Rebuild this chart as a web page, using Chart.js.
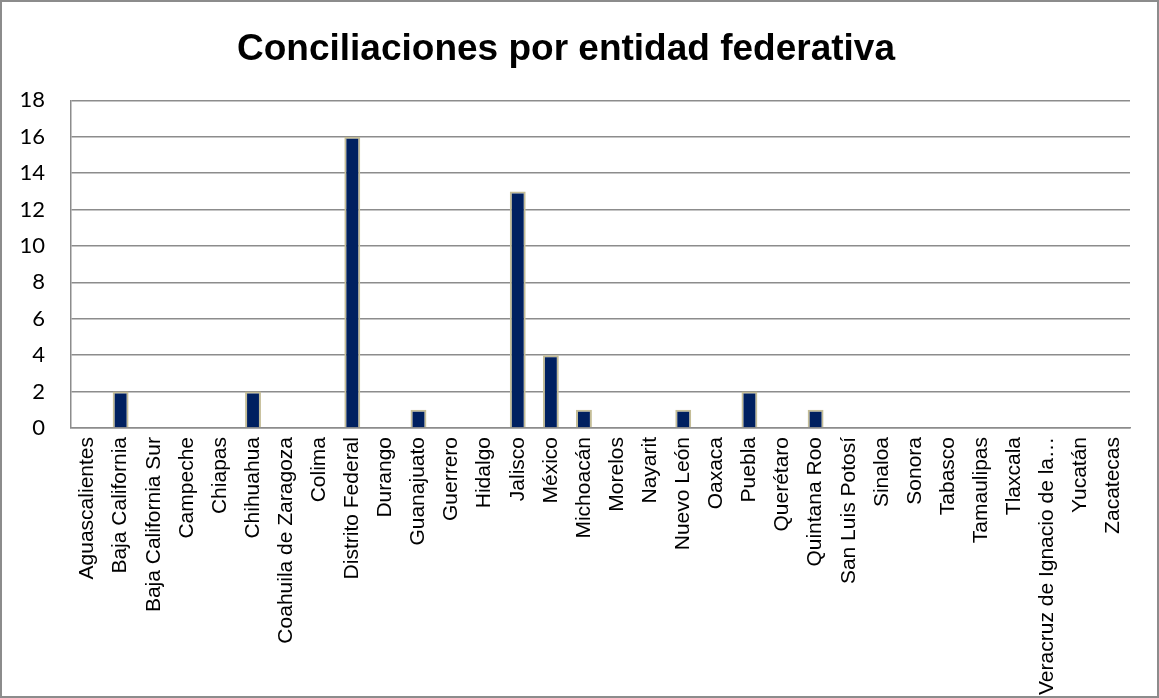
<!DOCTYPE html>
<html>
<head>
<meta charset="utf-8">
<script src="https://cdn.jsdelivr.net/npm/chart.js@4.4.0/dist/chart.umd.min.js"></script>
<style>
    html, body { margin: 0; padding: 0; background: #fff; }
    #wrap {
        width: 1159px; height: 698px;
        box-sizing: border-box;
        border: 2px solid #8c8c8c;
        position: relative;
    }
</style>
</head>
<body>
<div id="wrap"><canvas id="chart"></canvas></div>
<script>
// Entidades federativas (eje X)
const entidades = [
    "Aguascalientes", "Baja California", "Baja California Sur", "Campeche", "Chiapas",
    "Chihuahua", "Coahuila de Zaragoza", "Colima", "Distrito Federal", "Durango",
    "Guanajuato", "Guerrero", "Hidalgo", "Jalisco", "México", "Michoacán",
    "Morelos", "Nayarit", "Nuevo León", "Oaxaca", "Puebla", "Querétaro",
    "Quintana Roo", "San Luis Potosí", "Sinaloa", "Sonora", "Tabasco",
    "Tamaulipas", "Tlaxcala", "Veracruz de Ignacio de la…", "Yucatán", "Zacatecas"
];

// Número de conciliaciones
const conciliaciones = [
    0, 2, 0, 0, 0,
    2, 0, 0, 16, 0,
    1, 0, 0, 13, 4, 1,
    0, 0, 1, 0, 2, 0,
    1, 0, 0, 0, 0,
    0, 0, 0, 0, 0
];

const yMax = 18;
const yStep = 2;

const gridColor = '#8c8c8c';

new Chart(document.getElementById('chart').getContext('2d'), {
    type: 'bar',
    data: {
        labels: entidades,
        datasets: [{
            data: conciliaciones,
            backgroundColor: '#002060',
            borderColor: '#c4bd97',
            borderWidth: ctx => (ctx.raw ? 2 : 0),
            barPercentage: 0.48,
            categoryPercentage: 1.0
        }]
    },
    options: {
        responsive: true,
        maintainAspectRatio: false,
        animation: false,
        layout: { padding: { left: 0, right: 27, top: 0, bottom: 0 } },
        scales: {
            x: {
                grid: { display: false, drawTicks: false },
                border: { display: true, color: gridColor, width: 1.5 },
                ticks: {
                    autoSkip: false,
                    maxRotation: 90,
                    minRotation: 90,
                    padding: 9,
                    color: '#000',
                    font: { family: 'Liberation Sans, Arial, sans-serif', size: 21 }
                },
                afterFit: scale => { scale.height = 268; }
            },
            y: {
                min: 0,
                max: yMax,
                grid: { color: gridColor, lineWidth: 1.5, drawTicks: false },
                border: { display: true, color: gridColor, width: 1.5 },
                ticks: {
                    stepSize: yStep,
                    padding: 26,
                    color: '#000',
                    font: { family: 'Lato, Open Sans, sans-serif', size: 22 }
                },
                afterFit: scale => { scale.width = 69; }
            }
        },
        plugins: {
            legend: { display: false },
            tooltip: { enabled: false },
            title: {
                display: true,
                text: 'Conciliaciones por entidad federativa',
                color: '#000',
                font: { family: 'Liberation Sans, Arial, sans-serif', size: 37, weight: 'bold' },
                padding: { top: 26, bottom: 28 }
            }
        }
    }
});
</script>
</body>
</html>
